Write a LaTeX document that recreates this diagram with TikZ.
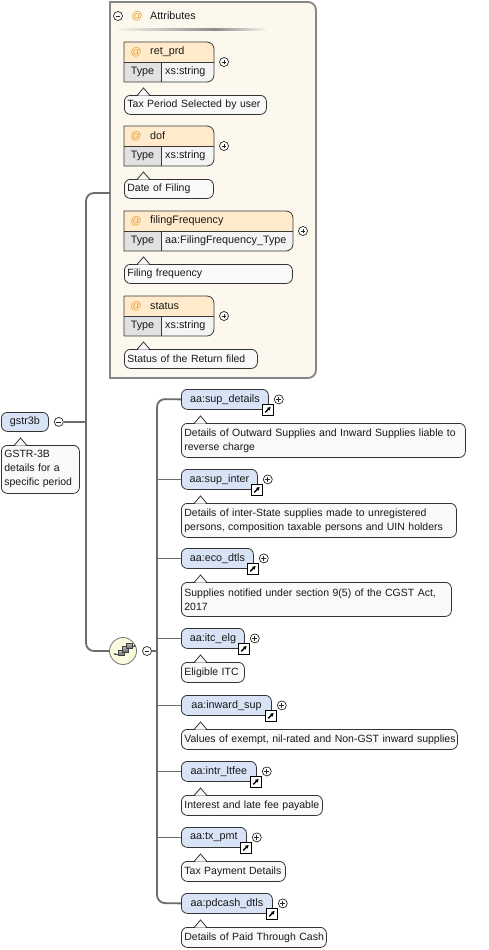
\documentclass[tikz,border=0pt]{standalone}
\usepackage{fontspec}
\setmainfont{Liberation Sans}
\usetikzlibrary{arrows.meta}
\definecolor{elemfill}{HTML}{D8E4F6}
\definecolor{tipfill}{HTML}{F9F9F9}
\definecolor{attrfill}{HTML}{FCF8EE}
\definecolor{attrborder}{HTML}{868686}
\definecolor{attrhead}{HTML}{FFEBCB}
\definecolor{typecell}{HTML}{E1E1E1}
\definecolor{valcell}{HTML}{F4F4F4}
\definecolor{linegray}{HTML}{6C6C6C}
\definecolor{atcolor}{HTML}{E89A28}
\definecolor{seqfill}{HTML}{FAFADF}
\newcommand\fs{\fontsize{10.8}{14}\selectfont}
\newcommand\tfs{\fontsize{10.5}{14}\selectfont}
\newcommand\notch[2]{%
  \fill[tipfill] (#1-5.3,#2+0.6) -- (#1,#2-7) -- (#1+5.3,#2+0.6) -- cycle;
  \draw[tipline] (#1-6,#2) -- (#1,#2-7) -- (#1+6,#2);}
% attribute box: #1 name, #2 top, #3 right, #4 label, #5 type, #6 tip text width, #7 tip text
\newcommand\attrbox[7]{%
  \fill[attrhead] (124,#2) -- (#3-7,#2) arc[start angle=-90,end angle=0,radius=7] -- (#3,#2+20) -- (124,#2+20) -- cycle;
  \fill[typecell] (124,#2+20) rectangle (161,#2+40);
  \fill[valcell] (161,#2+20) -- (#3,#2+20) -- (#3,#2+33) arc[start angle=0,end angle=90,radius=7] -- (161,#2+40) -- cycle;
  \draw[boxline] (124,#2) -- (#3-7,#2) arc[start angle=-90,end angle=0,radius=7] -- (#3,#2+33) arc[start angle=0,end angle=90,radius=7] -- (124,#2+40) -- cycle;
  \draw[boxline] (124,#2+20) -- (#3,#2+20) (161,#2+20) -- (161,#2+40);
  \node[text=atcolor] at (136,#2+10) {@};
  \node[anchor=west] (#1) at (150,#2+10) {#4};
  \node (#1type) at (142.5,#2+30) {Type};
  \node[anchor=west] (#1val) at (165,#2+30) {#5};
  \node[plusc] (#1pl) at (#3+10,#2+20) {};
  \node[tipbox, text width=#6pt, minimum height=19pt] (#1tip) at (124,#2+53) {\mbox{#7}};
  \notch{143.5}{#2+53}}
% element: #1 name, #2 top, #3 width, #4 label, #5 tip text width, #6 tip height, #7 tip text
\newcommand\elem[7]{%
  \node[elembox, minimum width=#3pt] (#1) at (181,#2) {#4};
  \node[linkicon] (#1lnk) at ([xshift=-1pt]#1.south east) {};
  \node[plusc] (#1pl) at ([xshift=10pt]#1.east) {};
  \node[tipbox, text width=#5pt, minimum height=#6pt] (#1tip) at (181,#2+34) {#7};
  \notch{200.5}{#2+34}}
\begin{document}
\begin{tikzpicture}[x=1pt,y=-1pt,
  every node/.style={font=\fs, inner sep=0pt, text=black!90},
  boxline/.style={draw=black!78, line width=0.8pt},
  tipline/.style={draw=black!80, line width=0.8pt},
  conn/.style={draw=linegray, line width=1.8pt},
  elembox/.style={draw=black!80, fill=elemfill, rounded corners=6pt, line width=0.8pt,
    minimum height=20pt, inner sep=0pt, anchor=north west},
  tipbox/.style={draw=black!80, fill=tipfill, rounded corners=6pt, line width=0.8pt, font=\tfs,
    inner xsep=3pt, inner ysep=1pt, anchor=north west, align=left},
  plusc/.style={circle, draw=black!85, fill=white, minimum size=9pt, inner sep=0pt, line width=0.7pt,
    path picture={\draw[line width=0.7pt] ([xshift=-2.4pt]path picture bounding box.center) -- ([xshift=2.4pt]path picture bounding box.center);
      \draw[line width=0.7pt] ([yshift=-2.4pt]path picture bounding box.center) -- ([yshift=2.4pt]path picture bounding box.center);}},
  minusc/.style={circle, draw=black!85, fill=white, minimum size=9pt, inner sep=0pt, line width=0.7pt,
    path picture={\draw[line width=0.7pt] ([xshift=-2.4pt]path picture bounding box.center) -- ([xshift=2.4pt]path picture bounding box.center);}},
  linkicon/.style={draw=black, fill=white, minimum size=10.5pt, inner sep=0pt, line width=0.8pt,
    path picture={\draw[line width=1.4pt, -{Triangle[length=3.2pt,width=3.6pt]}]
      ([shift={(-2.6pt,-2.6pt)}]path picture bounding box.center) -- ([shift={(2.8pt,2.8pt)}]path picture bounding box.center);}},
  seqc/.style={circle, draw=black!55, fill=seqfill, minimum size=27pt, inner sep=0pt, line width=0.8pt}
]
\useasboundingbox (0,0) rectangle (489,950);

% ---------- Attributes container ----------
\filldraw[fill=attrfill, draw=attrborder, line width=1.8pt]
  (110,2) -- (308,2) arc[start angle=-90,end angle=0,radius=8] -- (316,370)
  arc[start angle=0,end angle=90,radius=8] -- (110,378) -- cycle;
\coordinate (attrL) at (110,193);
\node[minusc] (attrm) at (118,16) {};
\node[text=atcolor] at (137,16) {@};
\node[anchor=west] (attrtitle) at (150,16) {Attributes};
\shade[left color=attrfill, right color=black!45] (113,29) rectangle (215,30.8);
\shade[left color=black!45, right color=attrfill] (215,29) rectangle (268,30.8);

\attrbox{retprd}{42}{214}{ret\_prd}{xs:string}{136}{Tax Period Selected by user}
\attrbox{dof}{126}{214}{dof}{xs:string}{83}{Date of Filing}
\attrbox{filfreq}{211}{293}{filingFrequency}{aa:FilingFrequency\_Type}{162}{Filing frequency}
\attrbox{status}{296}{214}{status}{xs:string}{127}{Status of the Return filed}

% ---------- root ----------
\node[elembox, minimum width=47pt, minimum height=19pt] (root) at (1,412) {gstr3b};
\node[minusc] (rootm) at ([xshift=10pt]root.east) {};
\node[tipbox, text width=72pt, minimum height=48pt] (roottip) at (1,445) {\mbox{GSTR-3B}\\\mbox{details for a}\\\mbox{specific period}};
\notch{20.5}{445}

% ---------- sequence ----------
\node[seqc] (seq) at (123,651) {};
\node[minusc] (seqm) at (147,651) {};
\draw[black!70, line width=0.8pt] (115,654) -- (120,654) (129,646) -- (134.5,646);
\fill[black!70] (115,654) circle[radius=1.1] (134.5,646) circle[radius=1.1];
\foreach \dx/\dy in {0/0,4/-3.5,8/-7}{
  \shade[top color=black!25, bottom color=black!60, draw=black!75, line width=0.5pt]
    (118.5+\dx,650+\dy) rectangle (124+\dx,655.5+\dy);}

% ---------- elements ----------
\elem{supdetails}{389}{87}{aa:sup\_details}{278}{34}{\mbox{Details of Outward Supplies and Inward Supplies liable to}\\\mbox{reverse charge}}
\elem{supinter}{469}{76}{aa:sup\_inter}{269}{34}{\mbox{Details of inter-State supplies made to unregistered}\\\mbox{persons, composition taxable persons and UIN holders}}
\elem{ecodtls}{548}{72}{aa:eco\_dtls}{264}{34}{\mbox{Supplies notified under section 9(5) of the CGST Act,}\\\mbox{2017}}
\elem{itcelg}{628}{63}{aa:itc\_elg}{57}{20}{\mbox{Eligible ITC}}
\elem{inwardsup}{695}{90}{aa:inward\_sup}{270}{20}{\mbox{Values of exempt, nil-rated and Non-GST inward supplies}}
\elem{intrltfee}{761}{75}{aa:intr\_ltfee}{135}{20}{\mbox{Interest and late fee payable}}
\elem{txpmt}{827}{65}{aa:tx\_pmt}{98}{20}{\mbox{Tax Payment Details}}
\elem{pdcash}{893}{91}{aa:pdcash\_dtls}{139}{20}{\mbox{Details of Paid Through Cash}}

% ---------- connectors ----------
\draw[conn, rounded corners=8pt] (attrL) -- (86,193) -- (86,651) -- (seq.west);
\draw[conn] (rootm.east) -- (86,422);
\draw[conn, rounded corners=8pt] (supdetails.west) -- (157,399) -- (157,903) -- (pdcash.west);
\draw[conn] (seqm.east) -- (157,651);
\foreach \n in {supinter,ecodtls,itcelg,inwardsup,intrltfee,txpmt}{
  \draw[conn] (\n.west) -- ++(-24,0);}
\end{tikzpicture}
\end{document}
